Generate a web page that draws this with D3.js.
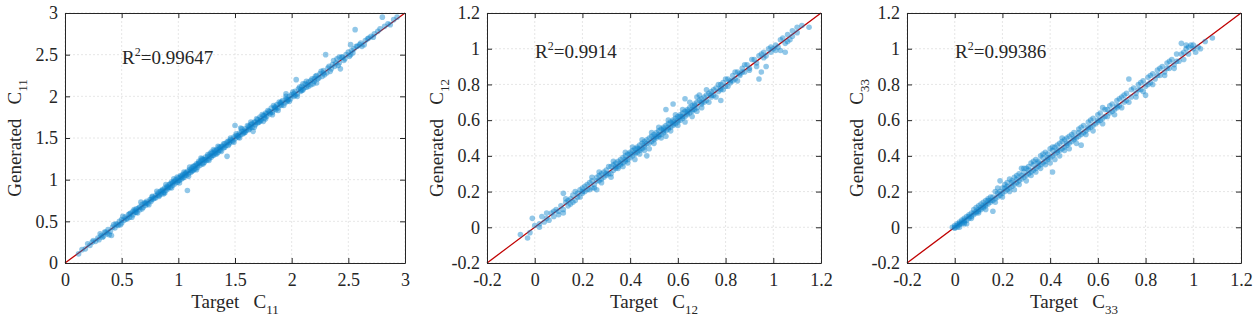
<!DOCTYPE html>
<html>
<head>
<meta charset="utf-8">
<script src="https://cdn.jsdelivr.net/npm/d3@7"></script>
<style>
  body { margin: 0; background: #fff; }
  text { font-family: "Liberation Serif", "Times New Roman", serif; fill: #262626; }
</style>
</head>
<body>
<div id="app"></div>
<script>
"use strict";

// [target, generated] pairs
const c11Points = [
  [0.12,0.11],[0.15,0.16],[0.18,0.17],[0.2,0.23],[0.22,0.21],[0.24,0.25],[0.25,0.27],[0.27,0.26],
  [0.29,0.3],[0.3,0.28],[0.32,0.33],[0.34,0.32],[0.35,0.37],[0.37,0.35],[0.38,0.4],[0.4,0.38],
  [0.41,0.33],[0.42,0.43],[0.44,0.42],[0.45,0.47],[0.47,0.45],[0.48,0.5],[0.5,0.48],[0.5,0.52],
  [0.52,0.51],[0.53,0.55],[0.55,0.53],[0.56,0.58],[0.57,0.55],[0.58,0.6],[0.6,0.58],[0.6,0.62],
  [0.62,0.61],[0.63,0.65],[0.64,0.6],[0.65,0.66],[0.66,0.64],[0.68,0.7],[0.69,0.67],[0.7,0.72],
  [0.71,0.69],[0.72,0.74],[0.73,0.71],[0.75,0.76],[0.76,0.74],[0.77,0.79],[0.78,0.77],[0.8,0.81],
  [0.8,0.78],[0.82,0.84],[0.83,0.81],[0.84,0.86],[0.85,0.83],[0.86,0.88],[0.87,0.85],[0.88,0.9],
  [0.88,0.84],[0.89,0.87],[0.9,0.92],[0.91,0.89],[0.92,0.94],[0.93,0.91],[0.94,0.97],[0.95,0.93],
  [0.96,0.98],[0.97,0.95],[0.98,1.0],[0.99,0.97],[1.0,1.02],[1.01,0.99],[1.02,1.05],[1.03,1.01],
  [1.04,1.06],[1.05,1.03],[1.06,1.08],[1.07,1.05],[1.08,0.87],[1.08,1.1],[1.09,1.07],[1.1,1.12],
  [1.11,1.09],[1.12,1.14],[1.13,1.11],[1.14,1.16],[1.15,1.13],[1.16,1.19],[1.17,1.15],[1.18,1.2],
  [1.19,1.17],[1.2,1.23],[1.2,1.26],[1.21,1.19],[1.22,1.24],[1.23,1.21],[1.24,1.27],[1.25,1.23],
  [1.26,1.28],[1.27,1.25],[1.28,1.31],[1.29,1.27],[1.3,1.32],[1.31,1.29],[1.32,1.35],[1.33,1.31],
  [1.34,1.36],[1.35,1.33],[1.36,1.39],[1.37,1.35],[1.38,1.4],[1.4,1.38],[1.41,1.43],[1.42,1.41],
  [1.43,1.28],[1.44,1.46],[1.45,1.43],[1.46,1.48],[1.48,1.46],[1.49,1.51],[1.5,1.65],[1.5,1.49],
  [1.51,1.53],[1.53,1.51],[1.54,1.56],[1.55,1.54],[1.55,1.62],[1.56,1.58],[1.58,1.56],[1.59,1.61],
  [1.6,1.59],[1.62,1.64],[1.63,1.61],[1.64,1.66],[1.65,1.63],[1.66,1.58],[1.67,1.69],[1.68,1.66],
  [1.7,1.72],[1.71,1.69],[1.72,1.75],[1.73,1.71],[1.75,1.77],[1.75,1.7],[1.76,1.74],[1.77,1.8],
  [1.78,1.76],[1.8,1.82],[1.81,1.79],[1.82,1.86],[1.83,1.81],[1.85,1.87],[1.86,1.84],[1.87,1.9],
  [1.88,1.86],[1.9,1.92],[1.91,1.89],[1.92,1.95],[1.94,1.92],[1.95,1.97],[1.95,2.03],[1.96,1.94],
  [1.98,2.0],[1.99,1.97],[2.0,2.02],[2.02,2.0],[2.03,2.06],[2.04,2.2],[2.05,2.03],[2.06,2.09],
  [2.08,2.06],[2.09,2.12],[2.1,2.08],[2.1,2.15],[2.12,2.15],[2.13,2.11],[2.15,2.17],[2.17,2.14],
  [2.18,2.21],[2.2,2.18],[2.22,2.25],[2.22,2.16],[2.23,2.21],[2.25,2.27],[2.27,2.24],[2.28,2.31],
  [2.3,2.5],[2.31,2.28],[2.33,2.36],[2.35,2.33],[2.37,2.43],[2.38,2.36],[2.4,2.45],[2.42,2.4],
  [2.42,2.47],[2.43,2.33],[2.45,2.47],[2.47,2.45],[2.5,2.53],[2.52,2.5],[2.52,2.62],[2.53,2.55],
  [2.55,2.57],[2.56,2.8],[2.58,2.6],[2.6,2.62],[2.62,2.6],[2.65,2.67],[2.68,2.7],[2.7,2.72],
  [2.73,2.75],[2.76,2.78],[2.8,2.95],[2.82,2.84],[2.85,2.87],[2.9,2.92],[2.93,2.95]
];

const c11MorePoints = [
  [0.31,0.35],[0.33,0.31],[0.36,0.37],[0.39,0.34],[0.43,0.46],[0.46,0.46],[0.49,0.46],[0.51,0.56],
  [0.54,0.53],[0.57,0.59],[0.59,0.55],[0.61,0.64],[0.63,0.61],[0.67,0.73],[0.68,0.65],[0.71,0.72],
  [0.74,0.7],[0.77,0.8],[0.79,0.78],[0.81,0.86],[0.83,0.8],[0.86,0.87],[0.87,0.83],[0.89,0.94],
  [0.91,0.91],[0.93,0.95],[0.94,0.9],[0.96,1.01],[0.97,0.98],[0.99,1.03],[1.01,0.96],[1.02,1.03],
  [1.04,1.02],[1.05,1.09],[1.07,1.08],[1.09,1.04],[1.1,1.15],[1.12,1.1],[1.13,1.16],[1.15,1.17],
  [1.16,1.12],[1.18,1.22],[1.19,1.2],[1.21,1.25],[1.22,1.19],[1.24,1.24],[1.26,1.3],[1.27,1.23],
  [1.29,1.33],[1.3,1.29],[1.31,1.36],[1.33,1.34],[1.34,1.31],[1.35,1.4],[1.37,1.38],[1.38,1.34],
  [1.4,1.43],[1.41,1.39],[1.43,1.45],[1.44,1.41],[1.46,1.5],[1.47,1.47],[1.49,1.45],[1.51,1.55],
  [1.52,1.52],[1.54,1.5],[1.56,1.61],[1.57,1.55],[1.59,1.57],[1.61,1.65],[1.62,1.6],[1.64,1.69],
  [1.65,1.67],[1.67,1.63],[1.69,1.73],[1.7,1.68],[1.72,1.7],[1.74,1.78],[1.76,1.77],[1.77,1.73],
  [1.79,1.83],[1.81,1.81],[1.83,1.78],[1.84,1.89],[1.86,1.87],[1.88,1.83],[1.89,1.93],[1.91,1.93],
  [1.93,1.89],[1.95,2.0],[1.97,1.96],[1.98,1.94],[2.01,2.05],[2.03,2.01],[2.05,2.0],[2.07,2.11],
  [2.09,2.07],[2.11,2.1],[2.13,2.18],[2.15,2.12],[2.17,2.19],[2.19,2.15],[2.21,2.24],[2.24,2.22],
  [2.26,2.3],[2.29,2.26],[2.32,2.34],[2.34,2.3],[2.36,2.38],[2.39,2.4],[2.41,2.37],[2.44,2.47],
  [2.46,2.43],[2.48,2.5],[2.51,2.48],[2.54,2.52],[2.57,2.6],[2.61,2.64],[2.64,2.62],[2.67,2.69],
  [2.72,2.71],[2.78,2.81],[2.87,2.86],[0.62,0.63],[0.66,0.67],[0.72,0.72],[0.76,0.76],[0.82,0.82],
  [0.85,0.86],[0.9,0.9],[0.95,0.96],[1.0,0.99],[1.03,1.04],[1.06,1.06],[1.11,1.11],[1.14,1.13],
  [1.17,1.18],[1.23,1.24],[1.28,1.28],[1.32,1.32],[1.36,1.36],[1.39,1.4],[1.45,1.45],[1.53,1.53],
  [1.58,1.58],[1.63,1.63],[1.68,1.69],[1.73,1.73],[1.78,1.79],[1.85,1.85],[1.9,1.9],[1.96,1.96],
  [2.02,2.03],[2.08,2.08],[2.14,2.14],[2.2,2.21],[2.28,2.28]
];

const c12Points = [
  [-0.06,-0.04],[-0.03,-0.06],[-0.02,-0.03],[-0.01,0.05],[0.0,0.01],[0.02,0.02],[0.03,0.06],[0.04,0.03],
  [0.05,0.05],[0.06,0.04],[0.07,0.08],[0.08,0.06],[0.09,0.1],[0.1,0.09],[0.11,0.12],[0.12,0.19],
  [0.12,0.1],[0.12,0.08],[0.13,0.14],[0.14,0.12],[0.15,0.16],[0.15,0.13],[0.16,0.18],[0.17,0.15],
  [0.18,0.19],[0.18,0.17],[0.19,0.21],[0.2,0.19],[0.2,0.22],[0.21,0.2],[0.22,0.24],[0.22,0.21],
  [0.23,0.25],[0.24,0.22],[0.24,0.26],[0.25,0.24],[0.26,0.28],[0.26,0.21],[0.27,0.29],[0.27,0.26],
  [0.28,0.3],[0.28,0.27],[0.29,0.31],[0.3,0.29],[0.3,0.32],[0.31,0.3],[0.32,0.34],[0.32,0.28],
  [0.33,0.35],[0.33,0.32],[0.34,0.36],[0.34,0.33],[0.35,0.37],[0.35,0.34],[0.36,0.38],[0.36,0.35],
  [0.37,0.39],[0.37,0.36],[0.38,0.4],[0.38,0.37],[0.39,0.41],[0.39,0.38],[0.4,0.42],[0.4,0.39],
  [0.41,0.43],[0.41,0.4],[0.42,0.44],[0.42,0.41],[0.43,0.45],[0.43,0.42],[0.44,0.46],[0.44,0.43],
  [0.45,0.47],[0.45,0.44],[0.46,0.48],[0.46,0.45],[0.47,0.49],[0.47,0.4],[0.48,0.5],[0.48,0.47],
  [0.49,0.51],[0.49,0.48],[0.5,0.52],[0.5,0.49],[0.51,0.53],[0.51,0.5],[0.52,0.54],[0.52,0.51],
  [0.53,0.55],[0.53,0.52],[0.54,0.56],[0.54,0.53],[0.55,0.57],[0.55,0.66],[0.55,0.54],[0.56,0.58],
  [0.56,0.55],[0.57,0.59],[0.57,0.56],[0.58,0.6],[0.58,0.69],[0.58,0.57],[0.59,0.61],[0.59,0.58],
  [0.6,0.62],[0.6,0.59],[0.61,0.63],[0.61,0.6],[0.62,0.64],[0.62,0.61],[0.63,0.65],[0.63,0.72],
  [0.63,0.62],[0.64,0.66],[0.64,0.63],[0.65,0.67],[0.65,0.64],[0.66,0.68],[0.66,0.65],[0.67,0.69],
  [0.67,0.66],[0.68,0.7],[0.68,0.73],[0.68,0.67],[0.69,0.71],[0.7,0.69],[0.7,0.72],[0.71,0.7],
  [0.72,0.74],[0.72,0.71],[0.73,0.75],[0.74,0.73],[0.75,0.77],[0.75,0.74],[0.76,0.78],[0.77,0.76],
  [0.78,0.8],[0.78,0.71],[0.78,0.77],[0.79,0.81],[0.8,0.79],[0.81,0.83],[0.82,0.81],[0.83,0.85],
  [0.84,0.83],[0.85,0.87],[0.86,0.85],[0.87,0.89],[0.88,0.87],[0.89,0.91],[0.9,0.89],[0.92,0.94],
  [0.93,0.92],[0.94,0.83],[0.95,0.97],[0.95,0.87],[0.96,0.95],[0.97,0.9],[0.98,1.0],[0.99,0.98],
  [1.0,1.0],[1.01,1.02],[1.02,1.01],[1.03,0.99],[1.04,1.06],[1.05,1.03],[1.05,0.98],[1.06,1.08],
  [1.07,1.05],[1.08,1.1],[1.1,1.12],[1.12,1.13],[1.15,1.12]
];

const c12MorePoints = [
  [0.02,0.0],[0.05,0.08],[0.08,0.09],[0.1,0.07],[0.13,0.16],[0.14,0.15],[0.16,0.14],[0.17,0.2],
  [0.19,0.17],[0.21,0.23],[0.23,0.21],[0.24,0.28],[0.25,0.22],[0.27,0.31],[0.28,0.25],[0.29,0.28],
  [0.31,0.34],[0.32,0.3],[0.33,0.37],[0.35,0.33],[0.36,0.36],[0.37,0.34],[0.38,0.42],[0.39,0.36],
  [0.4,0.41],[0.41,0.45],[0.42,0.38],[0.43,0.44],[0.44,0.41],[0.45,0.49],[0.46,0.43],[0.47,0.47],
  [0.48,0.44],[0.49,0.53],[0.5,0.47],[0.51,0.51],[0.52,0.56],[0.53,0.5],[0.54,0.55],[0.55,0.51],
  [0.56,0.6],[0.57,0.54],[0.58,0.59],[0.59,0.63],[0.6,0.57],[0.61,0.62],[0.62,0.66],[0.63,0.59],
  [0.64,0.65],[0.65,0.7],[0.66,0.62],[0.67,0.68],[0.68,0.65],[0.69,0.74],[0.7,0.67],[0.71,0.73],
  [0.72,0.77],[0.73,0.7],[0.74,0.76],[0.76,0.73],[0.77,0.8],[0.79,0.77],[0.8,0.83],[0.81,0.79],
  [0.83,0.82],[0.84,0.87],[0.85,0.82],[0.87,0.87],[0.88,0.91],[0.9,0.88],[0.91,0.94],[0.93,0.9],
  [0.94,0.96],[0.96,0.98],[0.97,0.96],[0.99,1.01],[1.01,0.99],[1.03,1.05],[1.06,1.04],[1.08,1.07],
  [1.1,1.09],[0.2,0.2],[0.26,0.26],[0.3,0.3],[0.34,0.34],[0.38,0.38],[0.42,0.42],[0.44,0.44],
  [0.46,0.46],[0.5,0.5],[0.52,0.52],[0.54,0.54],[0.56,0.56],[0.58,0.58],[0.6,0.6],[0.62,0.62],
  [0.64,0.64],[0.66,0.66],[0.7,0.7],[0.74,0.74],[0.78,0.78],[0.82,0.82],[0.86,0.86]
];

const c33Points = [
  [-0.01,0.0],[0.0,0.01],[0.0,-0.005],[0.01,0.02],[0.01,0.0],[0.02,0.015],[0.02,0.03],[0.03,0.02],
  [0.03,0.04],[0.04,0.03],[0.04,0.05],[0.05,0.04],[0.05,0.02],[0.06,0.07],[0.06,0.05],[0.07,0.06],
  [0.07,0.08],[0.08,0.07],[0.08,0.1],[0.09,0.08],[0.09,0.11],[0.1,0.09],[0.1,0.12],[0.11,0.1],
  [0.11,0.13],[0.12,0.11],[0.12,0.14],[0.13,0.12],[0.13,0.15],[0.14,0.13],[0.14,0.16],[0.15,0.14],
  [0.15,0.17],[0.16,0.15],[0.16,0.09],[0.17,0.16],[0.17,0.2],[0.18,0.17],[0.18,0.22],[0.19,0.18],
  [0.19,0.26],[0.2,0.19],[0.2,0.22],[0.21,0.2],[0.21,0.24],[0.22,0.21],[0.22,0.25],[0.23,0.22],
  [0.23,0.27],[0.24,0.23],[0.24,0.26],[0.25,0.24],[0.25,0.28],[0.26,0.25],[0.26,0.29],[0.27,0.26],
  [0.27,0.3],[0.28,0.27],[0.28,0.33],[0.29,0.28],[0.29,0.31],[0.3,0.29],[0.3,0.33],[0.31,0.3],
  [0.31,0.34],[0.32,0.31],[0.32,0.36],[0.33,0.32],[0.33,0.35],[0.34,0.33],[0.34,0.38],[0.35,0.34],
  [0.35,0.37],[0.36,0.35],[0.36,0.4],[0.37,0.36],[0.37,0.39],[0.38,0.37],[0.38,0.42],[0.39,0.38],
  [0.39,0.41],[0.4,0.39],[0.4,0.44],[0.41,0.4],[0.41,0.31],[0.41,0.43],[0.42,0.41],[0.42,0.45],
  [0.43,0.42],[0.43,0.46],[0.44,0.43],[0.44,0.47],[0.45,0.44],[0.45,0.48],[0.46,0.45],[0.46,0.49],
  [0.47,0.46],[0.47,0.5],[0.48,0.47],[0.48,0.51],[0.49,0.48],[0.5,0.53],[0.5,0.49],[0.51,0.5],
  [0.52,0.55],[0.52,0.51],[0.53,0.52],[0.53,0.46],[0.54,0.57],[0.54,0.53],[0.55,0.54],[0.56,0.59],
  [0.56,0.55],[0.57,0.56],[0.58,0.61],[0.58,0.57],[0.59,0.58],[0.6,0.63],[0.6,0.59],[0.61,0.6],
  [0.62,0.67],[0.62,0.61],[0.63,0.62],[0.64,0.66],[0.65,0.64],[0.66,0.69],[0.66,0.65],[0.67,0.66],
  [0.68,0.71],[0.68,0.67],[0.69,0.68],[0.7,0.73],[0.71,0.7],[0.72,0.75],[0.72,0.71],[0.73,0.83],
  [0.74,0.73],[0.75,0.78],[0.76,0.75],[0.77,0.8],[0.78,0.77],[0.79,0.82],[0.8,0.79],[0.8,0.74],
  [0.81,0.84],[0.82,0.81],[0.83,0.86],[0.84,0.83],[0.85,0.88],[0.86,0.85],[0.87,0.9],[0.88,0.87],
  [0.89,0.92],[0.9,0.89],[0.91,0.94],[0.92,0.91],[0.93,0.97],[0.94,0.93],[0.95,1.03],[0.96,0.98],
  [0.97,1.0],[0.98,1.01],[0.99,1.02],[1.0,1.0],[1.01,0.98],[1.02,1.01],[1.05,1.04],[1.08,1.06]
];

const c33MorePoints = [
  [0.0,0.0],[0.01,0.01],[0.02,0.02],[0.02,0.0],[0.03,0.03],[0.04,0.04],[0.04,0.02],[0.05,0.06],
  [0.06,0.06],[0.07,0.05],[0.08,0.08],[0.09,0.09],[0.1,0.1],[0.1,0.08],[0.11,0.11],[0.12,0.12],
  [0.13,0.13],[0.13,0.1],[0.14,0.15],[0.15,0.15],[0.16,0.17],[0.17,0.14],[0.18,0.19],[0.19,0.2],
  [0.2,0.17],[0.21,0.22],[0.22,0.23],[0.23,0.2],[0.24,0.25],[0.25,0.21],[0.26,0.27],[0.27,0.24],
  [0.28,0.29],[0.29,0.33],[0.3,0.26],[0.31,0.32],[0.32,0.29],[0.33,0.37],[0.34,0.31],[0.35,0.36],
  [0.36,0.33],[0.37,0.41],[0.38,0.35],[0.39,0.39],[0.4,0.36],[0.41,0.45],[0.42,0.38],[0.43,0.43],
  [0.44,0.4],[0.45,0.5],[0.46,0.43],[0.47,0.47],[0.48,0.44],[0.49,0.52],[0.5,0.5],[0.51,0.47],
  [0.52,0.53],[0.53,0.56],[0.55,0.52],[0.56,0.56],[0.57,0.6],[0.58,0.54],[0.6,0.6],[0.61,0.64],
  [0.62,0.58],[0.63,0.66],[0.64,0.62],[0.65,0.68],[0.67,0.63],[0.68,0.68],[0.69,0.72],[0.7,0.67],
  [0.71,0.74],[0.73,0.7],[0.74,0.77],[0.76,0.73],[0.77,0.77],[0.78,0.81],[0.79,0.76],[0.81,0.8],
  [0.82,0.85],[0.83,0.8],[0.85,0.85],[0.86,0.89],[0.88,0.85],[0.89,0.89],[0.9,0.93],[0.92,0.89],
  [0.93,0.93],[0.95,0.97],[0.96,0.94],[0.97,1.02],[0.98,0.97],[1.0,1.02],[1.03,1.0]
];

const c11Ticks = [0, 0.5, 1, 1.5, 2, 2.5, 3];
const cTicks = [-0.2, 0, 0.2, 0.4, 0.6, 0.8, 1, 1.2];

const panels = [
  { points: c11Points.concat(c11MorePoints), domain: [0, 3], ticks: c11Ticks, sub: "11", r2: "0.99647", left: 65, right: 405, rx: 57, ry: 64 },
  { points: c12Points.concat(c12MorePoints), domain: [-0.2, 1.2], ticks: cTicks, sub: "12", r2: "0.9914", left: 487, right: 821, rx: 48, ry: 58 },
  { points: c33Points.concat(c33MorePoints), domain: [-0.2, 1.2], ticks: cTicks, sub: "33", r2: "0.99386", left: 907, right: 1241, rx: 48, ry: 58 }
];

const TOP = 13, BOTTOM = 263;
const FONT = '"Liberation Serif", "Times New Roman", serif';

const svg = d3.select('#app').append('svg')
  .attr('width', 1260)
  .attr('height', 325)
  .attr('font-family', FONT);

/**
 * Draws one scatter panel
 *
 * @param {Object} p panel config
 */
const drawPanel = (p) => {
  const x = d3.scaleLinear().domain(p.domain).range([p.left, p.right]);
  const y = d3.scaleLinear().domain(p.domain).range([BOTTOM, TOP]);
  const g = svg.append('g');
  // plain hyphen for negatives, like the original
  const fmt = d => String(d);

  // grid
  g.append('g').selectAll('line').data(p.ticks).join('line')
    .attr('x1', d => x(d)).attr('x2', d => x(d))
    .attr('y1', TOP).attr('y2', BOTTOM)
    .attr('stroke', '#e0e0e0').attr('stroke-width', 0.8).attr('stroke-dasharray', '2,2');
  g.append('g').selectAll('line').data(p.ticks).join('line')
    .attr('y1', d => y(d)).attr('y2', d => y(d))
    .attr('x1', p.left).attr('x2', p.right)
    .attr('stroke', '#e0e0e0').attr('stroke-width', 0.8).attr('stroke-dasharray', '2,2');

  // identity line, under the points
  g.append('line')
    .attr('x1', x(p.domain[0])).attr('y1', y(p.domain[0]))
    .attr('x2', x(p.domain[1])).attr('y2', y(p.domain[1]))
    .attr('stroke', '#c00000').attr('stroke-width', 1.3);

  // points
  g.append('g').selectAll('circle').data(p.points).join('circle')
    .attr('cx', d => x(d[0]))
    .attr('cy', d => y(d[1]))
    .attr('r', 2.8)
    .attr('fill', '#0a82cb')
    .attr('fill-opacity', 0.45);

  // axes, ticks pointing inward
  const styleAxis = (sel) => {
    sel.attr('font-family', FONT);
    sel.selectAll('path, line').attr('stroke', '#262626');
    sel.selectAll('text').attr('font-size', 18).attr('fill', '#262626');
  };
  g.append('g').attr('transform', `translate(0,${BOTTOM})`)
    .call(d3.axisBottom(x).tickValues(p.ticks).tickFormat(fmt).tickSize(-5).tickSizeOuter(0).tickPadding(10))
    .call(styleAxis);
  g.append('g').attr('transform', `translate(0,${TOP})`)
    .call(d3.axisTop(x).tickValues(p.ticks).tickFormat('').tickSize(-5).tickSizeOuter(0))
    .call(styleAxis);
  g.append('g').attr('transform', `translate(${p.left},0)`)
    .call(d3.axisLeft(y).tickValues(p.ticks).tickFormat(fmt).tickSize(-5).tickSizeOuter(0).tickPadding(7))
    .call(styleAxis);
  g.append('g').attr('transform', `translate(${p.right},0)`)
    .call(d3.axisRight(y).tickValues(p.ticks).tickFormat('').tickSize(-5).tickSizeOuter(0))
    .call(styleAxis);

  // R^2 annotation
  const r = g.append('text')
    .attr('x', p.left + p.rx).attr('y', p.ry)
    .attr('font-size', 19)
    .attr('fill', '#111');
  r.append('tspan').text('R');
  r.append('tspan').attr('font-size', 12).attr('dy', -8).text('2');
  r.append('tspan').attr('dy', 8).text('=' + p.r2);

  // x label
  const cx = (p.left + p.right) / 2;
  const xl = g.append('text')
    .attr('x', cx).attr('y', 308)
    .attr('text-anchor', 'middle')
    .attr('font-size', 19)
    .attr('xml:space', 'preserve');
  xl.append('tspan').text('Target   C');
  xl.append('tspan').attr('font-size', 13).attr('dy', 6).text(p.sub);

  // y label
  const yl = g.append('text')
    .attr('transform', `translate(${p.left - 44},${(TOP + BOTTOM) / 2}) rotate(-90)`)
    .attr('text-anchor', 'middle')
    .attr('font-size', 19)
    .attr('xml:space', 'preserve');
  yl.append('tspan').text('Generated   C');
  yl.append('tspan').attr('font-size', 13).attr('dy', 6).text(p.sub);
};

panels.forEach(drawPanel);
</script>
</body>
</html>
